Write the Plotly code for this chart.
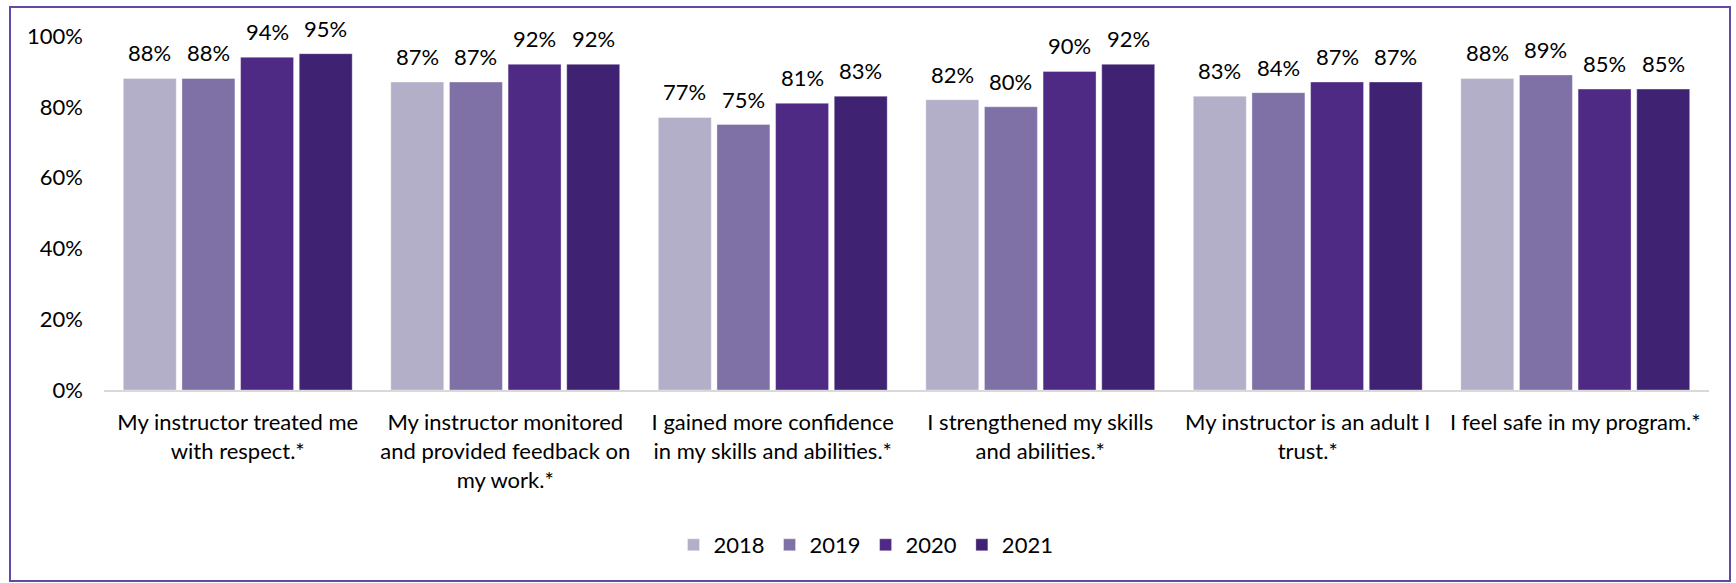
import plotly.graph_objects as go

categories = [
    "My instructor treated me<br>with respect.*",
    "My instructor monitored<br>and provided feedback on<br>my work.*",
    "I gained more confidence<br>in my skills and abilities.*",
    "I strengthened my skills<br>and abilities.*",
    "My instructor is an adult I<br>trust.*",
    "I feel safe in my program.*",
]
years = ["2018", "2019", "2020", "2021"]
values_2018 = [88, 87, 77, 82, 83, 88]
values_2019 = [88, 87, 75, 80, 84, 89]
values_2020 = [94, 92, 81, 90, 87, 85]
values_2021 = [95, 92, 83, 92, 87, 85]
series = [values_2018, values_2019, values_2020, values_2021]
colors = ["#B4AFC9", "#7F71A6", "#4E2A84", "#3F2272"]
y_ticks = [0, 20, 40, 60, 80, 100]

FONT = "Lato"
FS = 22
W, H = 1736, 583
L, R, T, B = 104, 27, 36, 193
plot_w = W - L - R
plot_h = H - T - B
BARGAP, GROUPGAP = 0.123, 0.097

fig = go.Figure()
for name, vals, col in zip(years, series, colors):
    fig.add_trace(go.Bar(
        name=name,
        x=categories,
        y=vals,
        marker=dict(color=col, line=dict(color="rgba(255,255,255,0.35)", width=1)),
        cliponaxis=False,
    ))

# value labels above each bar, shifted to the bar's slot within its group
slot_px = plot_w / len(categories) * (1 - BARGAP) / len(years)
for i, vals in enumerate(series):
    for cat, v in zip(categories, vals):
        fig.add_annotation(
            x=cat, y=v, text=f"{v}%", showarrow=False,
            xshift=(i - (len(years) - 1) / 2) * slot_px, yshift=10,
            yanchor="bottom", xanchor="center",
            font=dict(family=FONT, size=FS, color="#000000"),
        )

# outer frame around the whole chart
def px_x(px):
    return (px - L) / plot_w

def px_y(py):
    return (H - B - py) / plot_h

fig.add_shape(
    type="rect", xref="paper", yref="paper",
    x0=px_x(10), x1=px_x(1730), y0=px_y(581), y1=px_y(7),
    line=dict(color="#6248A8", width=2), fillcolor="rgba(0,0,0,0)",
    layer="below",
)

fig.update_layout(
    width=W, height=H,
    margin=dict(l=L, r=R, t=T, b=B),
    paper_bgcolor="white", plot_bgcolor="white",
    barmode="group", bargap=BARGAP, bargroupgap=GROUPGAP,
    font=dict(family=FONT, size=FS, color="#000000"),
    showlegend=True,
    legend=dict(
        orientation="h", x=px_x(866), xanchor="center",
        y=px_y(545), yanchor="middle",
        font=dict(family=FONT, size=FS, color="#000000"),
        itemclick=False,
    ),
)
fig.update_xaxes(
    showline=True, linecolor="#D9D9D9", linewidth=2,
    ticks="", showgrid=False, ticklabelstandoff=12,
    tickfont=dict(family=FONT, size=FS, color="#000000"),
)
fig.update_yaxes(
    range=[0, 100], tickmode="array", tickvals=y_ticks,
    ticktext=[f"{t}%" for t in y_ticks],
    showgrid=False, zeroline=False, showline=False, ticks="",
    ticklabelstandoff=20,
    tickfont=dict(family=FONT, size=FS, color="#000000"),
)

fig.write_html("out.html")
